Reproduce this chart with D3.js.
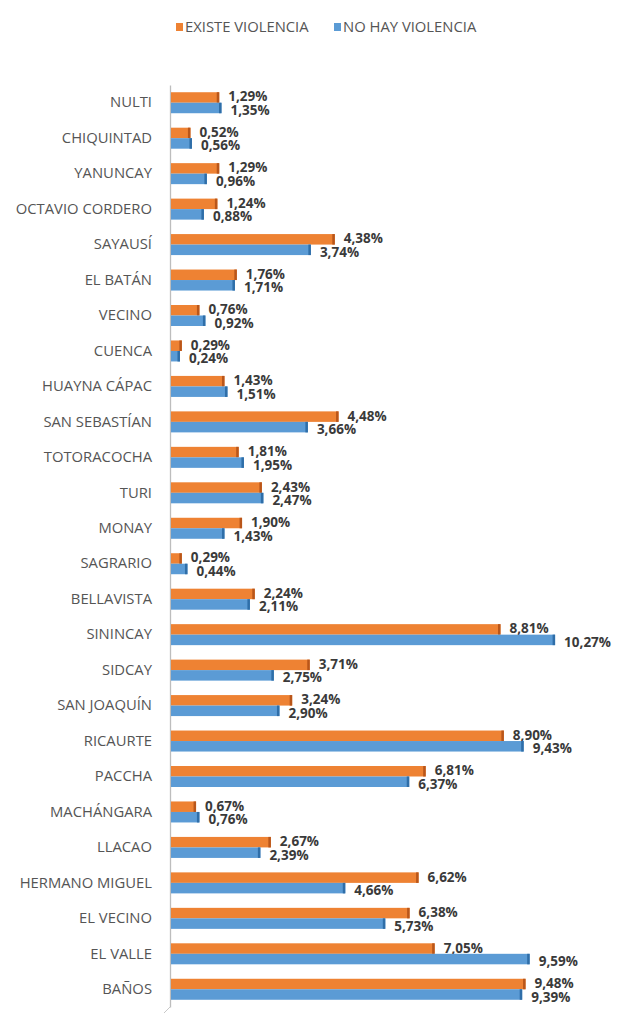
<!DOCTYPE html>
<html>
<head>
<meta charset="utf-8">
<script src="https://cdn.jsdelivr.net/npm/d3@7"></script>
<style>
  body { margin: 0; background: #fff; }
  text { font-family: "Open Sans", sans-serif; }
</style>
</head>
<body>
<script>
// data
var categories = ["NULTI", "CHIQUINTAD", "YANUNCAY", "OCTAVIO CORDERO", "SAYAUSÍ", "EL BATÁN",
    "VECINO", "CUENCA", "HUAYNA CÁPAC", "SAN SEBASTÍAN", "TOTORACOCHA", "TURI", "MONAY",
    "SAGRARIO", "BELLAVISTA", "SININCAY", "SIDCAY", "SAN JOAQUÍN", "RICAURTE", "PACCHA",
    "MACHÁNGARA", "LLACAO", "HERMANO MIGUEL", "EL VECINO", "EL VALLE", "BAÑOS"];
var existe = [1.29, 0.52, 1.29, 1.24, 4.38, 1.76, 0.76, 0.29, 1.43, 4.48, 1.81, 2.43, 1.90,
    0.29, 2.24, 8.81, 3.71, 3.24, 8.90, 6.81, 0.67, 2.67, 6.62, 6.38, 7.05, 9.48];
var noHay = [1.35, 0.56, 0.96, 0.88, 3.74, 1.71, 0.92, 0.24, 1.51, 3.66, 1.95, 2.47, 1.43,
    0.44, 2.11, 10.27, 2.75, 2.90, 9.43, 6.37, 0.76, 2.39, 4.66, 5.73, 9.59, 9.39];
var seriesNames = ["EXISTE VIOLENCIA", "NO HAY VIOLENCIA"];

var colors = ["#ee8233", "#5b9bd5"];
var edges = ["#b9561a", "#2f6ea8"];

var w = 636, h = 1030;

var svg = d3.select("body")
    .append("svg")
    .attr("width", w)
    .attr("height", h);

var x = d3.scaleLinear().domain([0, 11]).range([171, 171 + 11 * 37.4]);
var y = d3.scaleBand().domain(categories).range([85, 1007]);
var inner = d3.scaleBand().domain(seriesNames).range([0, 21]);
var off = (y.bandwidth() - 21) / 2;

var fmt = function (v) {
    return d3.format(".2f")(v).replace(".", ",") + "%";
};

// category axis
var axis = svg.append("g")
    .attr("transform", "translate(170,0)")
    .call(d3.axisLeft(y).tickSize(0).tickPadding(18));
axis.select(".domain").attr("stroke", "#bdbdbd").attr("stroke-width", 1.3);
axis.selectAll("text")
    .style("font-family", "'Open Sans', sans-serif")
    .style("font-size", "14.8px")
    .attr("fill", "#555");

// little 3D floor stub at bottom of axis
svg.append("line")
    .attr("x1", 170).attr("y1", y.range()[1])
    .attr("x2", 164).attr("y2", y.range()[1] + 6)
    .attr("stroke", "#c8c8c8").attr("stroke-width", 1);

var rows = categories.map(function (c, i) {
    return { cat: c, vals: [existe[i], noHay[i]] };
});

var groups = svg.selectAll("g.row")
    .data(rows)
    .enter()
    .append("g")
    .attr("class", "row")
    .attr("transform", function (d) {
        return "translate(0," + (y(d.cat) + off) + ")";
    });

var bars = groups.selectAll("g.bar")
    .data(function (d) {
        return d.vals.map(function (v, k) { return { v: v, k: k }; });
    })
    .enter()
    .append("g")
    .attr("class", "bar");

bars.append("rect")
    .attr("x", x(0))
    .attr("y", function (d) { return inner(seriesNames[d.k]); })
    .attr("width", function (d) { return x(d.v) - x(0); })
    .attr("height", inner.bandwidth())
    .attr("fill", function (d) { return colors[d.k]; });

// darker end cap
bars.append("rect")
    .attr("x", function (d) { return x(d.v) - 2.5; })
    .attr("y", function (d) { return inner(seriesNames[d.k]); })
    .attr("width", 2.5)
    .attr("height", inner.bandwidth())
    .attr("fill", function (d) { return edges[d.k]; });

bars.append("text")
    .attr("x", function (d) { return x(d.v) + 9; })
    .attr("y", function (d) {
        return inner(seriesNames[d.k]) + inner.bandwidth() / 2 + (d.k === 0 ? 4 : 7);
    })
    .style("font-size", "13.5px")
    .style("font-weight", "bold")
    .attr("fill", "#3a3a3a")
    .text(function (d) { return fmt(d.v); });

// legend
var legend = svg.append("g").attr("transform", "translate(176,27)");
var legX = [0, 158];
var items = legend.selectAll("g")
    .data(seriesNames)
    .enter()
    .append("g")
    .attr("transform", function (d, i) { return "translate(" + legX[i] + ",0)"; });
items.append("rect")
    .attr("x", 0).attr("y", -4)
    .attr("width", 7).attr("height", 8)
    .attr("fill", function (d, i) { return colors[i]; });
items.append("text")
    .attr("x", 9).attr("y", 5)
    .style("font-size", "14.8px")
    .attr("fill", "#555")
    .text(function (d) { return d; });
</script>
</body>
</html>
